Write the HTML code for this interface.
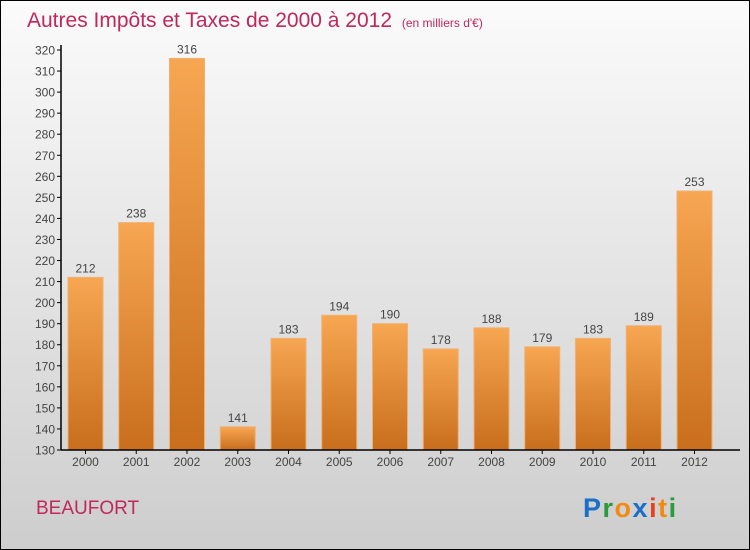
<!DOCTYPE html>
<html><head><meta charset="utf-8"><style>
html,body{margin:0;padding:0;width:750px;height:550px;overflow:hidden}
svg{display:block;font-family:"Liberation Sans",sans-serif}
</style></head><body>
<svg id="chart" width="750" height="550">
<defs>
<linearGradient id="bg" x1="0" y1="0" x2="0" y2="1"><stop offset="0" stop-color="#fbfbfb"/><stop offset="1" stop-color="#cdcdcd"/></linearGradient>
<linearGradient id="bar" x1="0" y1="0" x2="0" y2="1"><stop offset="0" stop-color="#f7a652"/><stop offset="1" stop-color="#c86e1c"/></linearGradient>
</defs>
<rect x="0.5" y="0.5" width="749" height="549" fill="url(#bg)" stroke="#000"/>
<text x="27" y="27" font-size="21" fill="#c0285a">Autres Impôts et Taxes de 2000 à 2012 <tspan font-size="12" dx="4">(en milliers d'€)</tspan></text>
<g id="grid"></g><g id="bars"></g><g id="axes"></g>
<text x="36" y="514" font-size="19" fill="#c0285a">BEAUFORT</text>
<text x="583" y="517" font-size="27" font-weight="bold" letter-spacing="1.5"><tspan fill="#1a6fc8">P</tspan><tspan fill="#2a9a3a">r</tspan><tspan fill="#f28a10">o</tspan><tspan fill="#1a6fc8">x</tspan><tspan fill="#e8401a">i</tspan><tspan fill="#f28a10">t</tspan><tspan fill="#2a9a3a">i</tspan></text>
</svg>
<script>
const categories=["2000","2001","2002","2003","2004","2005","2006","2007","2008","2009","2010","2011","2012"];
const values=[212,238,316,141,183,194,190,178,188,179,183,189,253];
const yTicks=[130,140,150,160,170,180,190,200,210,220,230,240,250,260,270,280,290,300,310,320];
const NS="http://www.w3.org/2000/svg";
const y0=450,y1=50,vmin=130,vmax=320;
function y(v){return y0-(v-vmin)/(vmax-vmin)*(y0-y1);}
function xc(i){return 85.5+i*50.75;}
function mk(tag,attrs,parent,txt){const e=document.createElementNS(NS,tag);for(const k in attrs)e.setAttribute(k,attrs[k]);if(txt!==undefined)e.textContent=txt;document.getElementById(parent).appendChild(e);return e;}
yTicks.forEach(t=>{
 const l=mk('line',{x1:57,x2:61,y1:y(t),y2:y(t),stroke:'#000'},'axes');
 
 
 const tx=mk('text',{x:55,y:y(t)+4.5,'text-anchor':'end','font-size':12,fill:'#444'},'axes',t);
 
 
});
categories.forEach((c,i)=>{
 const v=values[i];
 const r=mk('rect',{x:xc(i)-17.5,y:y(v),width:35,height:y0-y(v),fill:'url(#bar)',stroke:'#f0b070','stroke-width':1},'bars');
 
 
 const vl=mk('text',{x:xc(i),y:y(v)-5,'text-anchor':'middle','font-size':12,fill:'#444'},'bars',v);
 
 
 const xl=mk('text',{x:xc(i),y:466,'text-anchor':'middle','font-size':12,fill:'#444'},'axes',c);
 
 
 const xt=mk('line',{x1:xc(i),x2:xc(i),y1:450,y2:454,stroke:'#000'},'axes');
 
 
});
const ya=mk('line',{x1:61,x2:61,y1:45,y2:450.5,stroke:'#000','stroke-width':1.5},'axes');


const xa=mk('line',{x1:61,x2:740,y1:450,y2:450,stroke:'#000','stroke-width':1.5},'axes');


</script>
</body></html>
